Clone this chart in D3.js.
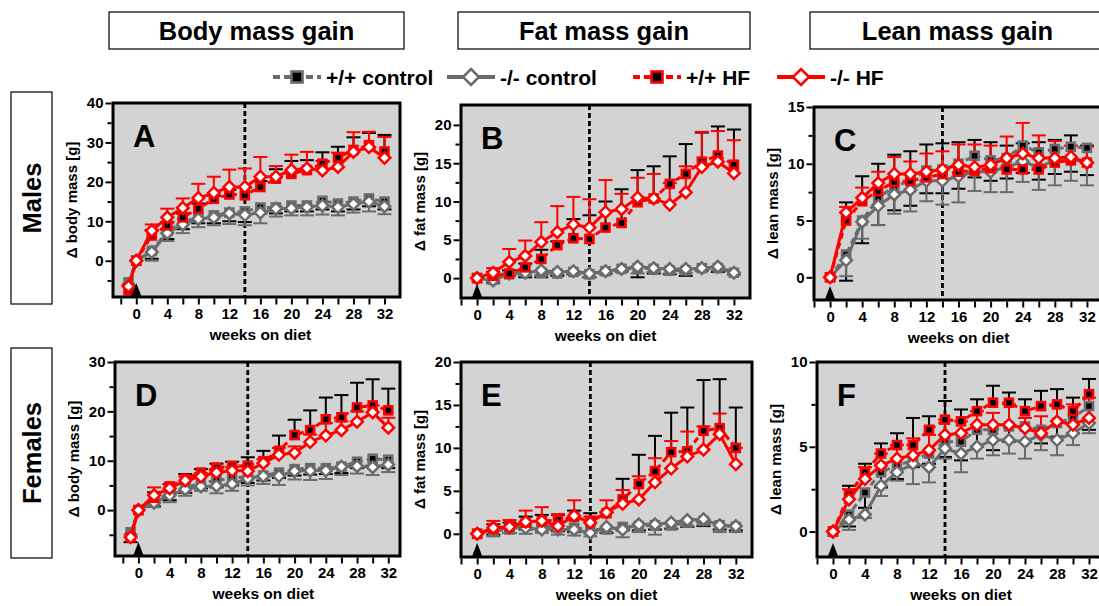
<!DOCTYPE html>
<html><head><meta charset="utf-8">
<script src="https://cdn.jsdelivr.net/npm/d3@7"></script>
<style>
body{margin:0;background:#fff;overflow:hidden}
svg text{font-family:"Liberation Sans",Arial,sans-serif;font-weight:bold;fill:#000}
</style></head><body>
<svg id="fig" width="1099" height="606"></svg>
<script>
// weeks on diet (A and D also have a pre-diet point at -1)
const weeksPre = [-1,0,2,4,6,8,10,12,14,16,18,20,22,24,26,28,30,32];
const weeks = [0,2,4,6,8,10,12,14,16,18,20,22,24,26,28,30,32];

// ---- A: males, body mass gain
const A_ppCtl = [-5.5,0,2.5,7.5,9.8,11.0,11.5,12.2,12.5,13.5,13.5,14.0,14.0,15.2,14.5,15.0,15.8,15.0];
const A_ppCtlErr = [null,null,0.5,5.5,8,9.5,9.5,10,9.8,12,12,12.5,12.5,13,12.5,13,13.8,13];
const A_koCtl = [-6,0,2.2,7.0,9.2,10.6,11.0,12.0,11.6,12.2,13.2,13.3,13.6,14.0,13.6,14.4,15.0,13.8];
const A_koCtlErr = [null,null,0,5,7,8.5,9.0,9.3,9.0,9.5,11.2,11.5,11.5,11.7,11.5,12.2,12.5,11.8];
const A_ppHF = [-7.5,0,6.4,9.0,11.0,13.2,15.7,16.8,16.6,18.7,20.8,22.0,23.0,24.6,26.1,28.1,29.3,27.7];
const A_ppHFErr = [null,null,7.8,9.8,12,14.5,16.5,18,18.5,20.2,23.2,25.3,25.5,27.5,28.9,31.3,32.4,31.9];
const A_koHF = [-6.5,0,7.6,11.0,13.4,15.9,17.2,18.7,18.7,21.3,21.3,23.0,23.4,22.9,23.8,27.6,28.8,26.1];
const A_koHFErr = [null,null,9.2,13.2,15.8,19.5,21.3,23.1,23.4,26.3,24,26.9,27.6,25.3,27.4,32.6,32.7,31.4];

// ---- B: males, fat mass gain
const B_ppCtl = [0,-0.2,0.5,0.8,0.7,0.6,0.8,0.5,0.9,1.2,1.3,1.2,1.0,1.0,1.3,1.3,0.7];
const B_ppCtlErr = [null,-0.6,0.3,0.1,0.1,0.3,0.5,0.1,0.6,0.9,0.1,0.6,0.5,0.3,1.0,0.8,0.4];
const B_koCtl = [0,-0.3,0.6,0.7,1.0,0.8,0.9,0.6,0.9,1.2,1.5,1.3,1.2,1.2,1.3,1.5,0.7];
const B_koCtlErr = [null,-0.7,0.3,0.3,0.4,0.5,0.5,0.1,0.5,0.8,0.6,0.8,0.6,0.7,0.9,1.0,0.4];
const B_ppHF = [0,0.3,0.6,1.4,2.5,4.3,5.2,5.1,6.6,7.2,9.9,10.4,12.3,13.6,15.2,16.0,14.8];
const B_ppHFErr = [null,0.8,1.0,1.9,3.7,4.8,7.7,8.2,10.0,11.6,14.1,14.6,15.9,17.5,19.0,19.8,19.4];
const B_koHF = [0,0.7,2.1,2.9,4.7,6.0,7.0,6.6,8.6,9.0,10.5,10.4,9.6,11.2,14.5,15.2,13.7];
const B_koHFErr = [null,1.3,3.8,4.9,7.3,9.4,10.6,10.3,12.8,11.0,13.1,13.6,12.4,14.6,19.1,19.2,18.0];

// ---- C: males, lean mass gain
const C_ppCtl = [0,2.0,5.0,7.0,8.0,8.5,9.4,9.5,10.0,10.7,10.3,10.5,11.6,11.0,11.3,11.5,11.4];
const C_ppCtlErr = [null,-0.3,3.0,4.6,5.9,6.3,7.4,7.4,7.8,8.8,8.5,8.7,9.2,8.6,9.1,9.3,9.0];
const C_koCtl = [0,1.5,4.9,6.3,7.3,7.7,8.5,8.5,8.9,9.3,9.3,9.7,10.2,9.7,10.3,10.4,10.1];
const C_koCtlErr = [null,0.1,3.4,4.6,5.6,5.8,6.7,6.4,6.6,7.6,7.5,7.5,8.4,7.7,8.1,8.5,8.1];
const C_ppHF = [0,5.0,6.7,7.6,8.4,8.5,8.8,9.1,9.3,9.4,9.6,9.5,9.5,9.5,10.1,10.3,10.1];
const C_ppHFErr = [null,6.6,8.9,10.0,10.8,11.1,11.7,11.8,11.9,12.1,11.9,11.6,11.8,11.9,12.1,12.5,11.6];
const C_koHF = [0,5.7,7.0,8.3,9.1,9.1,9.3,9.5,9.9,9.7,9.9,10.5,10.9,10.5,10.5,10.6,10.1];
const C_koHFErr = [null,6.2,7.9,9.3,10.6,10.2,10.9,11.1,11.7,11.7,11.6,12.4,13.6,12.5,12.0,11.6,11.5];

// ---- D: females, body mass gain
const D_ppCtl = [-4.5,0,1.8,3.5,4.5,5.5,6.0,6.5,6.8,7.0,7.6,8.3,8.5,8.5,8.8,9.8,10.4,10.2];
const D_ppCtlErr = [-6.5,null,0.8,2.0,3.5,4.4,4.6,5.0,5.5,6.0,6.5,7.0,7.2,7.3,7.5,8.5,9.0,8.5];
const D_koCtl = [-5,0,1.5,3.0,4.2,4.8,4.9,5.3,6.4,6.9,6.9,7.9,8.0,8.0,8.8,8.9,8.7,9.2];
const D_koCtlErr = [null,null,0.6,1.6,2.9,3.9,3.4,3.9,5.0,5.3,5.1,6.2,6.1,6.3,7.1,7.4,7.1,7.7];
const D_ppHF = [-5.5,0,2.5,4.8,6.3,7.6,8.6,8.9,9.0,9.9,12.0,15.2,16.2,18.4,18.8,20.8,21.2,20.2];
const D_ppHFErr = [null,null,3.6,5.3,7.3,8.3,9.4,9.8,10.7,12.0,15.1,18.3,20.2,22.8,23.3,25.8,26.5,24.6];
const D_koHF = [-5.5,0,3.0,4.4,6.0,6.8,7.6,8.0,7.9,9.5,11.2,11.6,13.8,15.1,16.2,17.9,19.8,16.7];
const D_koHFErr = [null,null,4.6,5.2,6.8,7.5,8.3,8.7,8.7,10.3,12.6,12.9,15.3,17.6,18.0,20.0,21.2,18.7];

// ---- E: females, fat mass gain
const E_ppCtl = [0,0.3,0.5,1.0,0.9,0.8,0.7,0.5,0.5,0.8,0.9,1.0,1.0,1.3,1.5,1.0,0.8];
const E_ppCtlErr = [null,-0.1,0.1,0.5,0.4,0.3,0.2,0.1,0.1,0.4,0.4,0.5,0.6,0.8,0.9,0.5,0.4];
const E_koCtl = [0,0.4,0.7,0.7,0.5,0.5,0.5,0.1,0.8,0.5,1.1,1.1,1.3,1.6,1.7,1.0,0.9];
const E_koCtlErr = [null,-0.3,0.1,0.0,0.1,-0.1,-0.2,-0.3,0.2,-0.4,0.2,-0.1,0.5,0.9,1.1,0.2,0.2];
const E_ppHF = [0,0.6,0.9,1.3,1.5,1.6,2.0,1.5,2.4,4.0,5.8,7.3,9.5,9.6,12.0,12.3,10.0];
const E_ppHFErr = [null,1.1,1.3,2.0,2.2,2.2,2.7,2.4,2.5,6.4,9.2,11.4,14.1,14.7,17.9,18.0,14.7];
const E_koHF = [0,0.7,0.8,1.4,1.5,0.9,2.1,1.3,2.5,3.5,4.0,6.0,7.6,9.0,9.8,11.6,8.1];
const E_koHFErr = [null,1.5,1.6,2.7,3.1,2.3,3.9,2.0,3.9,5.1,6.7,8.8,10.8,11.9,12.5,14.0,10.0];

// ---- F: females, lean mass gain
const F_ppCtl = [0,1.0,2.3,3.5,3.9,4.2,4.6,5.3,5.3,6.0,6.0,6.2,6.2,6.0,6.4,6.7,7.4];
const F_ppCtlErr = [null,0.3,1.4,2.6,3.1,3.8,4.0,4.4,4.2,5.0,4.8,5.3,5.3,5.2,5.6,5.8,6.0];
const F_koCtl = [0,0.7,1.0,2.7,3.5,4.0,3.8,4.9,4.6,5.0,5.4,5.4,5.3,5.7,5.4,5.8,6.4];
const F_koCtlErr = [null,0.1,0.8,2.1,3.0,2.8,2.9,4.3,3.5,4.3,4.5,4.6,4.3,4.8,4.5,5.1,5.8];
const F_ppHF = [0,2.2,3.5,4.6,5.1,5.1,6.0,6.6,6.5,7.1,7.6,7.6,7.1,7.4,7.5,7.1,8.1];
const F_ppHFErr = [null,2.7,4.0,5.2,5.8,6.7,6.8,7.7,7.2,7.8,8.6,8.2,7.8,8.3,8.4,7.9,9.0];
const F_koHF = [0,1.9,3.1,3.9,4.3,4.5,4.8,5.7,5.8,6.3,6.3,6.3,6.1,5.8,6.5,6.3,6.7];
const F_koHFErr = [null,2.5,3.8,4.6,5.1,5.5,5.7,6.6,6.5,7.1,7.0,7.5,6.7,6.8,7.4,7.5,7.9];

const legendLabels = ['+/+ control','-/- control','+/+ HF','-/- HF'];
const colTitles = ['Body mass gain','Fat mass gain','Lean mass gain'];
const rowTitles = ['Males','Females'];

const GRAY = '#6b6b6b', RED = '#ff0000';
const styles = [
  {color:GRAY, dash:'6,4', marker:'square', err:'#000'},
  {color:GRAY, dash:null, marker:'diamond', err:GRAY},
  {color:RED, dash:'6,4', marker:'square', err:'#000'},
  {color:RED, dash:null, marker:'diamond', err:RED},
];

const panels = [
  {id:'A', box:[113,103,400,297], xd:[-3,34], yd:[-9.2,40], major:[0,10,20,30,40], minor:[-5,5,15,25,35], ylab:'\u0394 body mass [g]', x:weeksPre,
   s:[[A_ppCtl,A_ppCtlErr],[A_koCtl,A_koCtlErr],[A_ppHF,A_ppHFErr],[A_koHF,A_koHFErr]]},
  {id:'B', box:[461,105,750,298], xd:[-2,34], yd:[-2.6,22.6], major:[0,5,10,15,20], minor:[2.5,7.5,12.5,17.5], ylab:'\u0394 fat mass [g]', x:weeks,
   s:[[B_ppCtl,B_ppCtlErr],[B_koCtl,B_koCtlErr],[B_ppHF,B_ppHFErr],[B_koHF,B_koHFErr]]},
  {id:'C', box:[814,107,1103,300], xd:[-2,34], yd:[-2,15], major:[0,5,10,15], minor:[2.5,7.5,12.5], ylab:'\u0394 lean mass [g]', x:weeks,
   s:[[C_ppCtl,C_ppCtlErr],[C_koCtl,C_koCtlErr],[C_ppHF,C_ppHFErr],[C_koHF,C_koHFErr]]},
  {id:'D', box:[115,362,400,556], xd:[-3,33.5], yd:[-9.3,30], major:[0,10,20,30], minor:[-5,5,15,25], ylab:'\u0394 body mass [g]', x:weeksPre,
   s:[[D_ppCtl,D_ppCtlErr],[D_koCtl,D_koCtlErr],[D_ppHF,D_ppHFErr],[D_koHF,D_koHFErr]]},
  {id:'E', box:[461,362,752,557], xd:[-2,34], yd:[-2.7,20], major:[0,5,10,15,20], minor:[2.5,7.5,12.5,17.5], ylab:'\u0394 fat mass [g]', x:weeks,
   s:[[E_ppCtl,E_ppCtlErr],[E_koCtl,E_koCtlErr],[E_ppHF,E_ppHFErr],[E_koHF,E_koHFErr]]},
  {id:'F', box:[817,362,1105,557], xd:[-2,34], yd:[-1.5,10], major:[0,5,10], minor:[2.5,7.5], ylab:'\u0394 lean mass [g]', x:weeks,
   s:[[F_ppCtl,F_ppCtlErr],[F_koCtl,F_koCtlErr],[F_ppHF,F_ppHFErr],[F_koHF,F_koHFErr]]},
];
const xMajor = [0,4,8,12,16,20,24,28,32];
const xMinor = [-2,2,6,10,14,18,22,26,30];

const svg = d3.select('#fig');

function marker(g, kind, x, y, color, r){
  if(kind==='square')
    g.append('rect').attr('x',x-r).attr('y',y-r).attr('width',2*r).attr('height',2*r)
      .attr('fill','#000').attr('stroke',color).attr('stroke-width',2.6);
  else
    g.append('path').attr('d',`M${x},${y-r}L${x+r},${y}L${x},${y+r}L${x-r},${y}Z`)
      .attr('fill','#fff').attr('stroke',color).attr('stroke-width',2.5);
}

function panel(p){
  const [x0,y0,x1,y1] = p.box;
  const x = d3.scaleLinear().domain(p.xd).range([x0,x1]);
  const y = d3.scaleLinear().domain(p.yd).range([y1,y0]);
  const g = svg.append('g');
  g.append('rect').attr('x',x0).attr('y',y0).attr('width',x1-x0).attr('height',y1-y0)
    .attr('fill','#d3d3d3');
  // diet switch at week 14
  g.append('line').attr('x1',x(14)).attr('x2',x(14)).attr('y1',y0).attr('y2',y1)
    .attr('stroke','#000').attr('stroke-width',2.8).attr('stroke-dasharray','5,3');
  g.append('text').attr('x',x0+20).attr('y',y0+44).attr('font-size',31).text(p.id);

  const line = d3.line().x((d,i)=>x(p.x[i])).y(d=>y(d));
  p.s.forEach(([vals,errs],k)=>{
    const st = styles[k];
    const eg = g.append('g').attr('stroke',st.err).attr('stroke-width',2);
    vals.forEach((v,i)=>{
      const e = errs[i];
      if(e===null) return;
      const cx = x(p.x[i]);
      eg.append('line').attr('x1',cx).attr('x2',cx).attr('y1',y(v)).attr('y2',y(e));
      eg.append('line').attr('x1',cx-7).attr('x2',cx+7).attr('y1',y(e)).attr('y2',y(e));
    });
  });
  p.s.forEach(([vals],k)=>{
    const st = styles[k];
    g.append('path').datum(vals).attr('d',line).attr('fill','none')
      .attr('stroke',st.color).attr('stroke-width',3).attr('stroke-dasharray',st.dash);
    vals.forEach((v,i)=>marker(g,st.marker,x(p.x[i]),y(v),st.color,st.marker==='square'?4:5.8));
  });

  // frame and axes
  g.append('rect').attr('x',x0).attr('y',y0).attr('width',x1-x0).attr('height',y1-y0)
    .attr('fill','none').attr('stroke','#000').attr('stroke-width',3);
  g.append('g').attr('transform',`translate(${x0-1.5},0)`)
    .call(d3.axisLeft(y).tickValues(p.major).tickSize(6).tickPadding(2).tickFormat(d3.format('d')));
  g.append('g').attr('transform',`translate(${x0-1.5},0)`)
    .call(d3.axisLeft(y).tickValues(p.minor.filter(v=>y(v)<y1-2)).tickSize(4).tickFormat(''));
  g.append('g').attr('transform',`translate(0,${y1+1.5})`)
    .call(d3.axisBottom(x).tickValues(xMajor).tickSize(6).tickPadding(4).tickFormat(d3.format('d')));
  g.append('g').attr('transform',`translate(0,${y1+1.5})`)
    .call(d3.axisBottom(x).tickValues(xMinor).tickSize(6).tickFormat(''));
  g.selectAll('.domain').remove();
  g.selectAll('.tick line').attr('stroke','#000').attr('stroke-width',2);
  g.selectAll('.tick text').attr('font-size',15).attr('font-family','"Liberation Sans",Arial,sans-serif')
    .attr('font-weight','bold').attr('fill','#000');

  // diet start arrow
  const ax = x(0);
  g.append('path').attr('d',`M${ax-5},${y1-1}L${ax+5},${y1-1}L${ax},${y1-14}Z`).attr('fill','#000');

  g.append('text').attr('transform',`translate(${x0-36},${(y0+y1)/2}) rotate(-90)`)
    .attr('text-anchor','middle').attr('font-size',15).text(p.ylab);
  g.append('text').attr('x',(x(0)+x(32))/2).attr('y',y1+43).attr('text-anchor','middle')
    .attr('font-size',15.5).text('weeks on diet');
}
panels.forEach(panel);

// column headers
const colBoxes = [[109,404],[458,750],[810,1105]];
colTitles.forEach((t,i)=>{
  const [a,b] = colBoxes[i];
  svg.append('rect').attr('x',a).attr('y',12).attr('width',b-a).attr('height',37)
    .attr('fill','#fff').attr('stroke','#000').attr('stroke-width',1.2);
  svg.append('text').attr('x',(a+b)/2).attr('y',40).attr('text-anchor','middle')
    .attr('font-size',25.5).text(t);
});
// row headers
const rowBoxes = [[92,304],[348,558]];
rowTitles.forEach((t,i)=>{
  const [a,b] = rowBoxes[i];
  svg.append('rect').attr('x',11).attr('y',a).attr('width',41).attr('height',b-a)
    .attr('fill','#fff').attr('stroke','#000').attr('stroke-width',1.2);
  svg.append('text').attr('transform',`translate(41,${(a+b)/2}) rotate(-90)`)
    .attr('text-anchor','middle').attr('font-size',25.5).text(t);
});

// legend
const legX = [273,447,633,777];
legendLabels.forEach((t,k)=>{
  const st = styles[k], lx = legX[k], ly = 77;
  const g = svg.append('g');
  g.append('line').attr('x1',lx).attr('x2',lx+48).attr('y1',ly).attr('y2',ly)
    .attr('stroke',st.color).attr('stroke-width',4).attr('stroke-dasharray',st.dash?'7,4':null);
  marker(g,st.marker,lx+24,ly,st.color,st.marker==='square'?5.5:8);
  g.append('text').attr('x',lx+53).attr('y',ly+7.5).attr('font-size',21).text(t);
});
</script>
</body></html>
